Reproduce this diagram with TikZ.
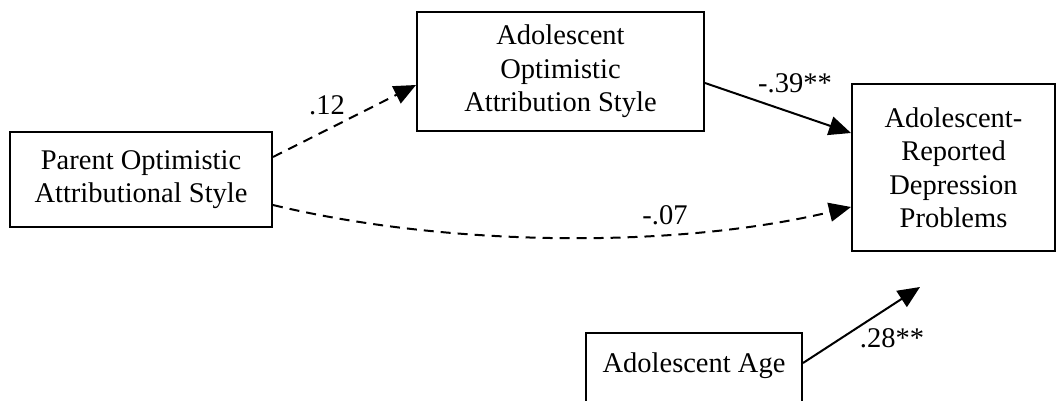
\documentclass[tikz,border=0pt]{standalone}
\usepackage{fontspec}
\setmainfont{Liberation Serif}
\usetikzlibrary{arrows.meta}

\begin{document}
\begin{tikzpicture}[x=1pt, y=1pt,
    every node/.style={font=\fontsize{28.5}{33.5}\selectfont},
    box/.style={draw, line width=2pt, align=center, inner sep=0pt},
    path/.style={line width=2pt, -{Triangle[length=22pt, width=19pt]}},
    dpath/.style={path, dash pattern=on 10pt off 7pt},
    lbl/.style={inner sep=0pt}]

    \useasboundingbox (0,0) rectangle (1056,400);
    \clip (0,0) rectangle (1056,400);

    % boxes
    \node[box, minimum width=262, minimum height=95] (par) at (141, 220.5) {Parent Optimistic\\Attributional Style};
    \node[box, minimum width=287, minimum height=119] (opt) at (560.5, 328.5) {Adolescent\\Optimistic\\Attribution Style};
    \node[box, minimum width=203, minimum height=167] (dep) at (953.5, 232.5) {Adolescent-\\Reported\\Depression\\Problems};
    \node[box, minimum width=216, minimum height=92] (age) at (694, 21) {Adolescent Age\\{}};
    \coordinate (ageend) at (920, 113);

    % paths
    \draw[dpath] ([yshift=22.5]par.east) -- ([yshift=-13.5]opt.west);
    \draw[path] ([yshift=-11.5]opt.east) -- ([yshift=34.5]dep.west);
    \draw[dpath] ([yshift=-25.5]par.east) .. controls (447, 153) and (676, 151) .. ([yshift=-39.5]dep.west);
    \draw[path] ([yshift=16]age.east) -- (ageend);

    % coefficients
    \node[lbl] (c1) at (327, 295) {.12};
    \node[lbl] (c2) at (795, 317) {-.39**};
    \node[lbl] (c3) at (665, 185) {-.07};
    \node[lbl] (c4) at (892, 62) {.28**};
\end{tikzpicture}
\end{document}
